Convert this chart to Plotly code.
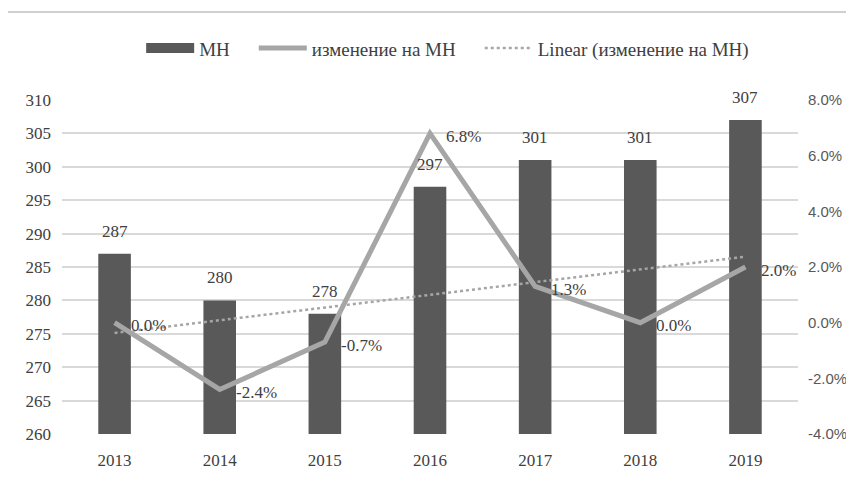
import plotly.graph_objects as go

years = ["2013", "2014", "2015", "2016", "2017", "2018", "2019"]
mn_values = [287, 280, 278, 297, 301, 301, 307]
change_pct = [0.0, -2.4, -0.7, 6.8, 1.3, 0.0, 2.0]
change_labels = ["0.0%", "-2.4%", "-0.7%", "6.8%", "1.3%", "0.0%", "2.0%"]
trend_years = ["2013", "2019"]
trend_pct = [-0.37, 2.37]
left_ticks = [260, 265, 270, 275, 280, 285, 290, 295, 300, 305, 310]
right_ticks = [-4, -2, 0, 2, 4, 6, 8]
right_tick_labels = ["-4.0%", "-2.0%", "0.0%", "2.0%", "4.0%", "6.0%", "8.0%"]
legend_names = ["МН", "изменение на МН", "Linear (изменение на МН)"]

SERIF = "Liberation Serif"
TXT = "#404040"
BAR_C = "#595959"
LINE_C = "#A6A6A6"
PAD = "\u00a0" * 4

fig = go.Figure()
fig.add_trace(go.Bar(
    x=years, y=mn_values, name=legend_names[0], showlegend=False,
    marker=dict(color=BAR_C, line=dict(width=0)),
))
# legend proxy for the bar series (wide swatch like the original)
fig.add_trace(go.Scatter(
    x=[years[0]], y=[None], name=legend_names[0] + PAD, mode="lines",
    line=dict(color=BAR_C, width=11),
))
fig.add_trace(go.Scatter(
    x=years, y=change_pct, name=legend_names[1] + PAD, yaxis="y2",
    mode="lines", line=dict(color=LINE_C, width=5),
))
fig.add_trace(go.Scatter(
    x=trend_years, y=trend_pct, name=legend_names[2], yaxis="y2",
    mode="lines", line=dict(color=LINE_C, width=2.5, dash="dot"),
))

annotations = []
for i, v in enumerate(mn_values):
    annotations.append(dict(x=i, y=v, xref="x", yref="y", text=str(v),
                            showarrow=False, yanchor="bottom", yshift=11,
                            font=dict(family=SERIF, size=17, color=TXT)))
for i, (v, t) in enumerate(zip(change_pct, change_labels)):
    annotations.append(dict(x=i, y=v, xref="x", yref="y2", text=t,
                            showarrow=False, xanchor="left", yanchor="middle",
                            xshift=14, yshift=-3,
                            font=dict(family=SERIF, size=17, color=TXT)))

BORDER = dict(color="#D0D0D0", width=2)
fig.update_layout(
    width=854, height=484,
    margin=dict(l=54, r=64, t=92, b=58),
    paper_bgcolor="white", plot_bgcolor="white",
    bargap=0.69,
    showlegend=True,
    legend=dict(orientation="h", x=0.524, xanchor="center", y=1.155, yanchor="middle",
                font=dict(family=SERIF, size=19, color=TXT), itemwidth=48,
                traceorder="normal"),
    xaxis=dict(type="category", categoryorder="array", categoryarray=years,
               range=[-0.5, len(years) - 0.5],
               showgrid=False, showline=False, ticks="",
               tickfont=dict(family=SERIF, size=17, color=TXT), ticklabelstandoff=14),
    yaxis=dict(range=[260, 310], tickvals=left_ticks, showgrid=True,
               gridcolor="#D9D9D9", gridwidth=1.5, zeroline=False, showline=False,
               tickfont=dict(family=SERIF, size=17, color=TXT), ticklabelstandoff=10),
    yaxis2=dict(range=[-4, 8], overlaying="y", side="right", tickvals=right_ticks,
                ticktext=right_tick_labels, showgrid=False, zeroline=False,
                tickfont=dict(family="Liberation Sans", size=15, color="#595959"),
                ticklabelstandoff=9),
    annotations=annotations,
    shapes=[
        dict(type="line", xref="paper", yref="paper", x0=-0.0774, x1=1.1,
             y0=1.2635, y1=1.2635, line=BORDER),
        dict(type="line", xref="paper", yref="paper", x0=-0.0774, x1=-0.0774,
             y0=1.2635, y1=-0.2, line=BORDER),
    ],
)

fig.write_html("out.html")
